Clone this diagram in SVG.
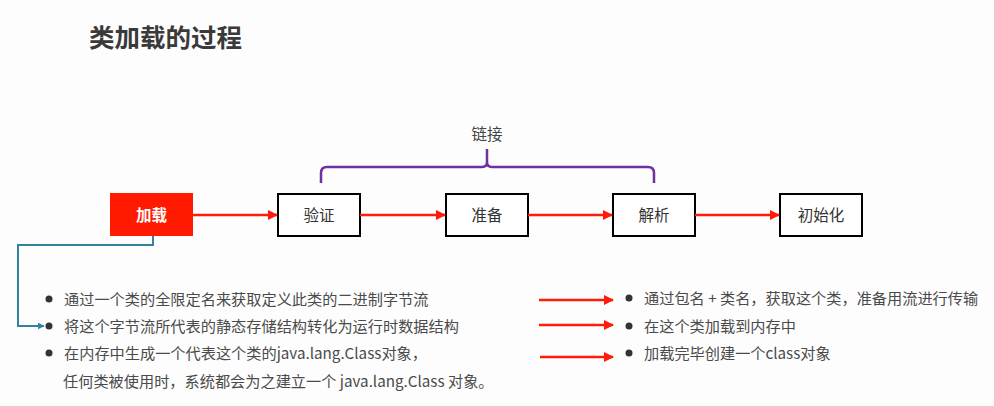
<svg xmlns="http://www.w3.org/2000/svg" width="994" height="406" viewBox="0 0 994 406">
<defs>
<style>
.t{font-family:"Noto Sans CJK SC","Liberation Sans",sans-serif;fill:#3a3a3a;}
.box{fill:#fff;stroke:#000;stroke-width:2;}
.lbl{font-family:"Noto Sans CJK SC","Liberation Sans",sans-serif;font-size:15.5px;fill:#333;text-anchor:middle;}
.red{stroke:#ff1a0a;stroke-width:2.5;fill:none;}
.txt{font-family:"Noto Sans CJK SC","Liberation Sans",sans-serif;font-size:15.2px;fill:#4a4a4a;}
</style>
<marker id="ar" viewBox="0 0 10 10" refX="9" refY="5" markerWidth="4" markerHeight="4" orient="auto" markerUnits="strokeWidth">
<path d="M0,0L10,5L0,10z" fill="#ff1a0a"/>
</marker>
<marker id="ab" viewBox="0 0 10 10" refX="9" refY="5" markerWidth="3.5" markerHeight="3.5" orient="auto" markerUnits="strokeWidth">
<path d="M0,0L10,5L0,10z" fill="#31849b"/>
</marker>
</defs>
<rect width="994" height="406" fill="#fdfdfd"/>
<text x="89" y="47" class="t" font-size="25.5" font-weight="bold">类加载的过程</text>

<g id="n-load"><rect x="110" y="193" width="83" height="43" fill="#ff1a00"/><text x="151.5" y="220.5" class="lbl" style="fill:#fff;font-weight:bold">加载</text></g>
<g id="n-verify"><rect x="278" y="194" width="82" height="42" class="box"/><text x="319" y="220.5" class="lbl">验证</text></g>
<g id="n-prepare"><rect x="446" y="194" width="82" height="42" class="box"/><text x="487" y="220.5" class="lbl">准备</text></g>
<g id="n-resolve"><rect x="613" y="194" width="82" height="42" class="box"/><text x="654" y="220.5" class="lbl">解析</text></g>
<g id="n-init"><rect x="780" y="194" width="82" height="42" class="box"/><text x="821" y="220.5" class="lbl">初始化</text></g>

<g id="link-brace">
<path d="M321,183 V173 Q321,167 327,167 H482 Q487,167 487,162 V149 V162 Q487,167 492,167 H648 Q654,167 654,173 V183" fill="none" stroke="#7030a0" stroke-width="2.5"/>
<text x="487" y="140" class="lbl" style="fill:#444">链接</text>
</g>

<g id="connectors">
<line x1="193" y1="215" x2="277" y2="215" class="red" marker-end="url(#ar)"/>
<line x1="360" y1="215" x2="445" y2="215" class="red" marker-end="url(#ar)"/>
<line x1="528" y1="215" x2="612" y2="215" class="red" marker-end="url(#ar)"/>
<line x1="695" y1="215" x2="779" y2="215" class="red" marker-end="url(#ar)"/>
<polyline points="153,236 153,245 18,245 18,326 44,326" fill="none" stroke="#31849b" stroke-width="2" marker-end="url(#ab)"/>
<line x1="539" y1="300" x2="613" y2="300" class="red" marker-end="url(#ar)"/>
<line x1="539" y1="325" x2="613" y2="325" class="red" marker-end="url(#ar)"/>
<line x1="540" y1="357" x2="613" y2="357" class="red" marker-end="url(#ar)"/>
</g>

<g id="left-list">
<circle cx="49" cy="299" r="3.5" fill="#333"/>
<circle cx="49" cy="326" r="3.5" fill="#333"/>
<circle cx="49" cy="353" r="3.5" fill="#333"/>
<text x="64" y="304.5" class="txt">通过一个类的全限定名来获取定义此类的二进制字节流</text>
<text x="64" y="331.5" class="txt">将这个字节流所代表的静态存储结构转化为运行时数据结构</text>
<text x="64" y="358.5" class="txt">在内存中生成一个代表这个类的java.lang.Class对象，</text>
<text x="63" y="387" class="txt">任何类被使用时，系统都会为之建立一个 java.lang.Class 对象。</text>
</g>

<g id="right-list">
<circle cx="629" cy="298" r="3.5" fill="#333"/>
<circle cx="629" cy="326" r="3.5" fill="#333"/>
<circle cx="629" cy="353" r="3.5" fill="#333"/>
<text x="644" y="303.5" class="txt">通过包名 + 类名，获取这个类，准备用流进行传输</text>
<text x="644" y="331.5" class="txt">在这个类加载到内存中</text>
<text x="644" y="358.5" class="txt">加载完毕创建一个class对象</text>
</g>
</svg>
